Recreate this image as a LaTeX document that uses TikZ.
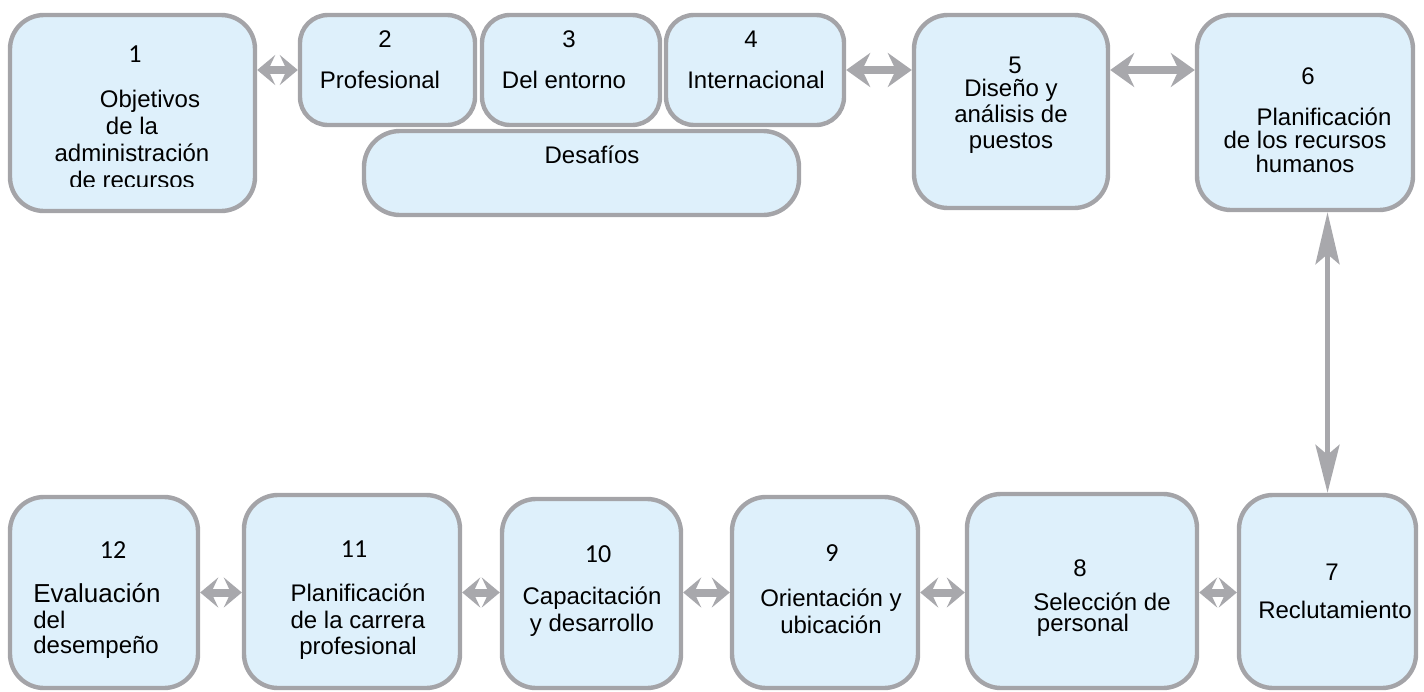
\documentclass[tikz,border=0pt]{standalone}
\usepackage{fontspec}
\setmainfont{Liberation Sans}
\newfontfamily\numfont{Carlito}
\usetikzlibrary{arrows.meta}
\definecolor{boxblue}{RGB}{222,240,251}
\definecolor{bordergray}{RGB}{164,164,168}
\definecolor{arrowgray}{RGB}{168,168,172}
\begin{document}
\begin{tikzpicture}[x=0.5pt,y=-0.5pt,
  box/.style={rectangle, draw=bordergray, fill=boxblue, line width=2.2pt, rounded corners=17pt, inner sep=0pt},
  smallbox/.style={box, rounded corners=14pt},
  txt/.style={font=\fontsize{12}{13.5}\selectfont, align=center, inner sep=0pt},
  num/.style={font=\fontsize{12}{14}\selectfont, inner sep=0pt},
  cnum/.style={font=\numfont\fontsize{13}{14}\selectfont, inner sep=0pt},
  arrS/.style={draw=arrowgray, line width=4pt, {Stealth[length=9pt,width=15pt,inset=3.5pt]}-{Stealth[length=9pt,width=15pt,inset=3.5pt]}},
  arrL/.style={draw=arrowgray, line width=4.2pt, {Stealth[length=12pt,width=17pt,inset=4pt]}-{Stealth[length=12pt,width=17pt,inset=4pt]}},
  arrV/.style={draw=arrowgray, line width=2.5pt, {Stealth[length=26pt,width=12pt,inset=5pt]}-{Stealth[length=24pt,width=12pt,inset=5pt]}}
]
\path[use as bounding box] (0,0) rectangle (1424,691);

% boxes
\node[box, minimum width=122.5pt, minimum height=98pt] (b1) at (132.5,113) {};
\node[smallbox, minimum width=87.5pt, minimum height=55pt] (b2) at (387.5,70) {};
\node[smallbox, minimum width=89pt, minimum height=55pt] (b3) at (571,70) {};
\node[smallbox, minimum width=89pt, minimum height=55pt] (b4) at (755,70) {};
\node[box, rounded corners=18pt, minimum width=217.5pt, minimum height=42pt] (bD) at (581.5,173) {};
\node[box, minimum width=97pt, minimum height=96.5pt] (b5) at (1011,111.5) {};
\node[box, minimum width=108pt, minimum height=97.5pt] (b6) at (1305,112.5) {};
\node[box, minimum width=88.5pt, minimum height=96.5pt] (b7) at (1327.5,591.5) {};
\node[box, minimum width=115pt, minimum height=97pt] (b8) at (1082,591) {};
\node[box, minimum width=93pt, minimum height=95.5pt] (b9) at (825,592.5) {};
\node[box, minimum width=89.5pt, minimum height=94.5pt] (b10) at (591.5,593.5) {};
\node[box, minimum width=108pt, minimum height=96.5pt] (b11) at (352,591.5) {};
\node[box, minimum width=94pt, minimum height=95.5pt] (b12) at (104,592.5) {};

% numbers
\node[cnum] (n1) at (135,54) {1};
\node[num] (n2) at (385,39) {2};
\node[num] (n3) at (569,39) {3};
\node[num] (n4) at (751,39) {4};
\node[num] (n5) at (1015,65) {5};
\node[num] (n6) at (1308,76) {6};
\node[num] (n7) at (1332,572) {7};
\node[num] (n8) at (1080,568) {8};
\node[cnum] (n9) at (832,553) {9};
\node[cnum] (n10) at (598,554) {10};
\node[cnum] (n11) at (354,549) {11};
\node[cnum] (n12) at (113,550) {12};

% texts
\begin{scope}
\clip (0,0) rectangle (1424,186);
\node[txt] (t1) at (132,139) {\hspace*{18pt}Objetivos\\de la\\administración\\de recursos};
\end{scope}
\node[txt] (t2) at (380,80) {Profesional};
\node[txt] (t3) at (564,80) {Del entorno};
\node[txt] (t4) at (756,80) {Internacional};
\node[txt] (tD) at (592,155) {Desafíos};
\node[txt, font=\fontsize{12}{13}\selectfont] (t5) at (1011,116) {Diseño y\\análisis de\\puestos};
\node[txt, font=\fontsize{12}{11.8}\selectfont] (t6) at (1305,140) {\hspace*{19pt}Planificación\\de los recursos\\humanos};
\node[txt] (t7) at (1335,610) {Reclutamiento};
\node[txt, font=\fontsize{12}{10.8}\selectfont] (t8) at (1083,614.5) {\hspace*{19pt}Selección de\\personal};
\node[txt] (t9) at (831,611.5) {Orientación y\\ubicación};
\node[txt] (t10) at (592,611.5) {Capacitación\\y desarrollo};
\node[txt, font=\fontsize{12}{13.2}\selectfont] (t11) at (358,622) {Planificación\\de la carrera\\profesional};
\node[txt, font=\fontsize{12}{12.6}\selectfont, align=left, anchor=west] (t12) at (33,621) {{\fontsize{13}{12.6}\selectfont Evaluación}\\del\\desempeño};

% connectors
\draw[arrS] (b1.east |- b2.west) -- (b2.west);
\draw[arrL] (b4.east) -- (b5.west |- b4.east);
\draw[arrL] (b5.east |- b4.east) -- (b6.west |- b4.east);
\draw[arrV] (b7.north |- b6.south) -- (b7.north);
\draw[arrS] (b8.east |- b9.east) -- (b7.west |- b9.east);
\draw[arrS] (b9.east) -- (b8.west |- b9.east);
\draw[arrS] (b10.east |- b9.east) -- (b9.west);
\draw[arrS] (b11.east |- b9.east) -- (b10.west |- b9.east);
\draw[arrS] (b12.east |- b9.east) -- (b11.west |- b9.east);
\end{tikzpicture}
\end{document}
